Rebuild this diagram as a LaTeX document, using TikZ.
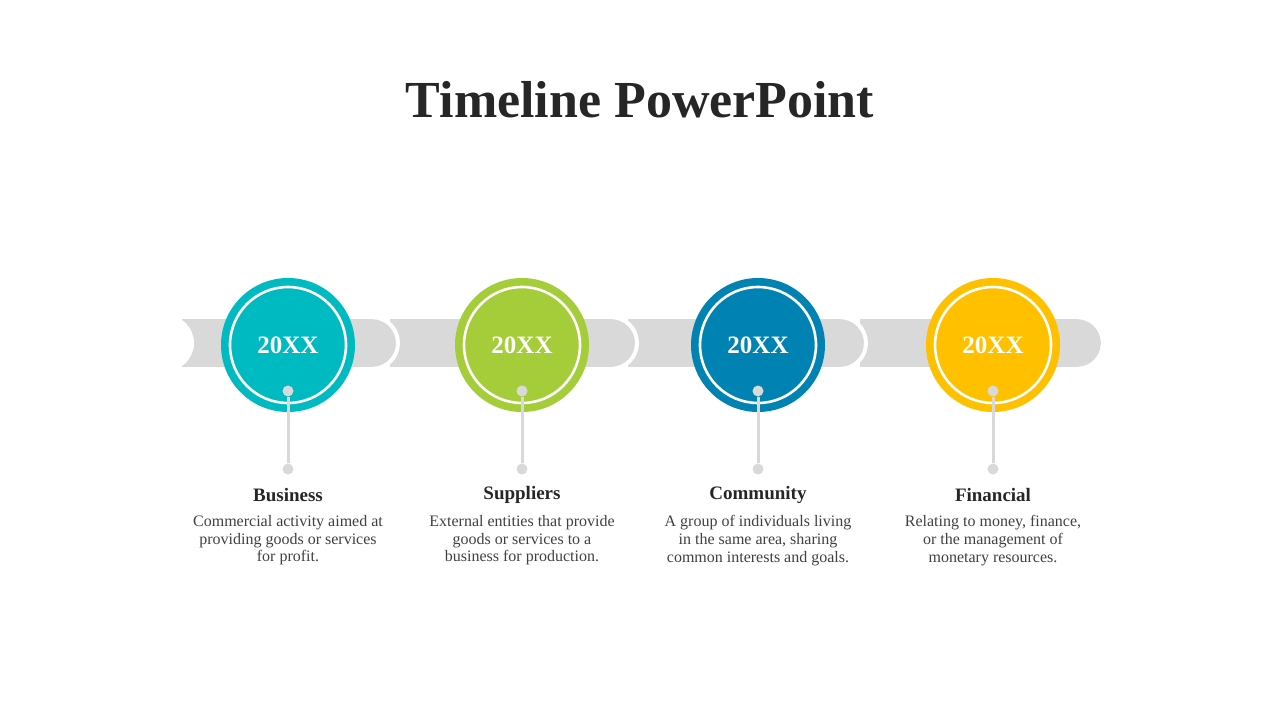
\documentclass[tikz,border=0pt]{standalone}
\usepackage{fontspec}
\setmainfont{Liberation Serif}
\definecolor{cA}{HTML}{00BAC1}
\definecolor{cB}{HTML}{A4CD39}
\definecolor{cC}{HTML}{0083B3}
\definecolor{cD}{HTML}{FFC000}
\definecolor{barg}{HTML}{D9D9D9}
\definecolor{txt}{HTML}{262626}
\definecolor{body}{HTML}{404040}
\begin{document}
\begin{tikzpicture}[x=1pt,y=-1pt,
  yr/.style={circle,minimum size=125pt,inner sep=0pt,draw=#1,line width=9pt,fill=#1,font=\bfseries\fontsize{25}{28}\selectfont,text=white},
  ring/.style={draw=white,line width=2.6pt},
  dot/.style={circle,fill=barg,inner sep=0pt,minimum size=11pt},
  head/.style={font=\bfseries\fontsize{19}{21}\selectfont,text=txt},
  desc/.style={font=\fontsize{16}{17.6}\selectfont,text=body,align=center}]
\useasboundingbox (0,0) rectangle (1280,720);
\node[font=\bfseries\fontsize{52}{56}\selectfont,text=txt] (title) at (640,100) {Timeline PowerPoint};
% bars, right to left
\foreach \l/\c in {860/1077,628/840,390/611,182/372}{
  \fill[barg] (\l,319) rectangle (\c,367);
  \fill[barg] (\c,343) circle (24);
  \draw[white,line width=4pt] (\c,343) ++(-90:26) arc (-90:90:26);
}
\fill[white] (166,343) circle (28);
\foreach \x/\col/\n in {288/cA/a,522/cB/b,758/cC/c,993/cD/d}{
  \node[yr=\col] (c\n) at (\x,345) {20XX};
  \draw[ring] (\x,345) circle (58);
  \node[dot] (t\n) at (\x,391) {};
  \node[dot] (b\n) at (\x,469) {};
  \draw[barg,line width=3pt] (t\n) -- (b\n);
}
\node[head] (ha) at (288,495) {Business};
\node[head] (hb) at (522,495) {Suppliers};
\node[head] (hc) at (758,495) {Community};
\node[head] (hd) at (993,495) {Financial};
\node[desc,anchor=north] (da) at (288,512) {Commercial activity aimed at\\providing goods or services\\for profit.};
\node[desc,anchor=north] (db) at (522,512) {External entities that provide\\goods or services to a\\business for production.};
\node[desc,anchor=north] (dc) at (758,512) {A group of individuals living\\in the same area, sharing\\common interests and goals.};
\node[desc,anchor=north] (dd) at (993,512) {Relating to money, finance,\\or the management of\\monetary resources.};
\end{tikzpicture}
\end{document}
